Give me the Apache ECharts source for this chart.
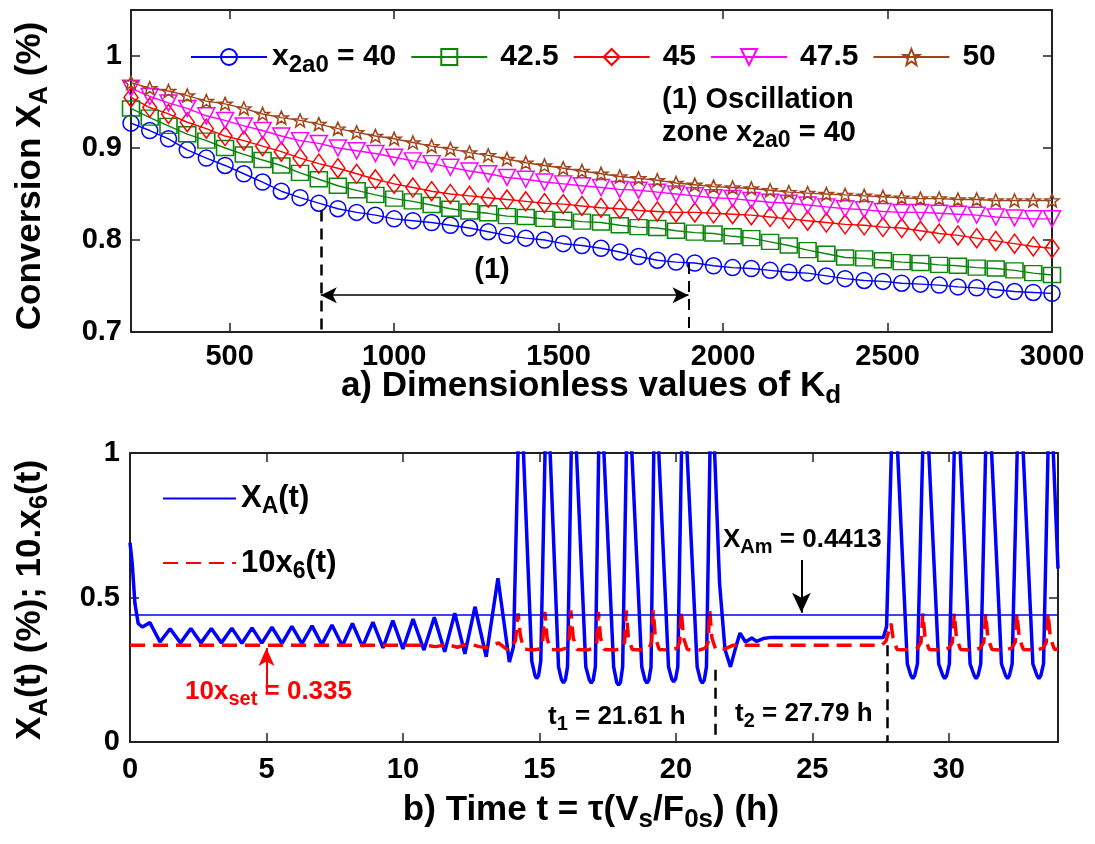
<!DOCTYPE html>
<html><head><meta charset="utf-8">
<script src="https://cdn.jsdelivr.net/npm/echarts@6/dist/echarts.min.js"></script>
<style>html,body{margin:0;padding:0;background:#fff}#c{width:1095px;height:844px}</style>
</head><body><div id="c"></div>
<script>
// ---- Panel a data ----
const kd = [200,257,314,371,429,486,543,600,657,714,771,829,886,943,1000,1057,1114,1171,1229,1286,1343,1400,1457,1514,1571,1629,1686,1743,1800,1857,1914,1971,2029,2086,2143,2200,2257,2314,2371,2429,2486,2543,2600,2657,2714,2771,2829,2886,2943,3000];
const x40 = [0.927,0.919,0.910,0.898,0.889,0.881,0.872,0.863,0.853,0.846,0.840,0.834,0.830,0.827,0.823,0.821,0.819,0.816,0.813,0.809,0.805,0.802,0.800,0.796,0.794,0.791,0.787,0.782,0.778,0.776,0.775,0.772,0.770,0.769,0.767,0.765,0.764,0.761,0.758,0.756,0.755,0.753,0.752,0.751,0.749,0.748,0.746,0.744,0.743,0.742];
const x425 = [0.943,0.933,0.924,0.915,0.908,0.900,0.893,0.887,0.881,0.873,0.866,0.859,0.854,0.849,0.845,0.842,0.838,0.834,0.831,0.829,0.826,0.825,0.823,0.822,0.820,0.819,0.816,0.814,0.813,0.810,0.808,0.807,0.804,0.802,0.798,0.794,0.789,0.785,0.781,0.780,0.778,0.776,0.775,0.773,0.772,0.770,0.769,0.767,0.764,0.762];
const x45 = [0.955,0.944,0.937,0.928,0.921,0.913,0.908,0.902,0.896,0.889,0.883,0.878,0.872,0.866,0.861,0.857,0.853,0.850,0.848,0.846,0.844,0.842,0.840,0.839,0.837,0.835,0.834,0.832,0.831,0.830,0.830,0.829,0.828,0.827,0.825,0.823,0.821,0.819,0.817,0.816,0.814,0.813,0.810,0.807,0.805,0.802,0.799,0.796,0.793,0.791];
const x475 = [0.965,0.956,0.949,0.943,0.935,0.930,0.924,0.919,0.913,0.908,0.905,0.900,0.897,0.894,0.890,0.886,0.883,0.879,0.875,0.872,0.868,0.866,0.863,0.861,0.859,0.857,0.855,0.854,0.852,0.850,0.848,0.846,0.845,0.843,0.841,0.840,0.838,0.836,0.834,0.833,0.831,0.830,0.830,0.829,0.828,0.827,0.825,0.824,0.823,0.823];
const x50 = [0.971,0.965,0.962,0.957,0.951,0.948,0.943,0.937,0.933,0.930,0.926,0.921,0.917,0.913,0.910,0.906,0.902,0.899,0.895,0.892,0.888,0.884,0.881,0.878,0.875,0.872,0.869,0.867,0.865,0.862,0.860,0.858,0.857,0.856,0.854,0.852,0.851,0.850,0.849,0.848,0.847,0.846,0.845,0.845,0.844,0.844,0.843,0.843,0.843,0.843];
const kdTicks = [500,1000,1500,2000,2500,3000];
const convTicks = [0.7,0.8,0.9,1];
const zoneStart = 777, zoneEnd = 1895, zoneArrowY = 0.74;
const zoneStartTop = 0.832, zoneEndTop = 0.775;

// ---- Panel b data ----
const xA = [[0,0.69],[0.08,0.62],[0.18,0.48],[0.3,0.41],[0.45,0.398],[0.73,0.413],[1.1,0.346],[1.47,0.392],[1.85,0.343],[2.23,0.393],[2.6,0.343],[2.98,0.393],[3.35,0.343],[3.73,0.394],[4.1,0.342],[4.47,0.395],[4.83,0.342],[5.2,0.397],[5.57,0.341],[5.93,0.400],[6.3,0.340],[6.67,0.402],[7.03,0.337],[7.4,0.405],[7.78,0.333],[8.15,0.410],[8.52,0.330],[8.9,0.415],[9.27,0.326],[9.63,0.420],[10.0,0.322],[10.37,0.425],[10.77,0.318],[11.15,0.432],[11.53,0.312],[11.9,0.446],[12.27,0.305],[12.64,0.468],[13.05,0.295],[13.48,0.567],[13.9,0.277],[14.05,0.33],
[14.29,1.3],[14.72,0.28],[14.84,0.23],[14.9,0.22],[14.97,0.23],[15.05,0.28],
[15.27,1.3],[15.7,0.26],[15.81,0.215],[15.88,0.205],[15.95,0.215],[16.03,0.26],
[16.22,1.3],[16.7,0.26],[16.83,0.214],[16.9,0.204],[16.97,0.214],[17.05,0.26],
[17.22,1.3],[17.72,0.26],[17.83,0.207],[17.9,0.197],[17.97,0.207],[18.05,0.26],
[18.24,1.3],[18.75,0.26],[18.87,0.214],[18.94,0.204],[19.01,0.214],[19.09,0.26],
[19.23,1.3],[19.73,0.26],[19.85,0.218],[19.92,0.208],[19.99,0.218],[20.07,0.26],
[20.26,1.3],[20.78,0.26],[20.9,0.214],[20.97,0.204],[21.04,0.214],[21.12,0.26],
[21.3,1.3],[21.6,0.55],[21.8,0.32],[22.0,0.26],[22.2,0.33],[22.35,0.377],[22.55,0.346],[22.78,0.36],[22.95,0.348],[23.2,0.358],[23.5,0.362],[27.6,0.362],[27.72,0.4],
[27.98,1.3],[28.48,0.27],[28.61,0.23],[28.68,0.22],[28.75,0.23],[28.85,0.27],
[29.12,1.3],[29.63,0.27],[29.78,0.23],[29.85,0.22],[29.92,0.23],[30.02,0.27],
[30.27,1.3],[30.78,0.27],[30.93,0.23],[31.0,0.22],[31.07,0.23],[31.17,0.27],
[31.42,1.3],[31.93,0.27],[32.08,0.23],[32.15,0.22],[32.22,0.23],[32.32,0.27],
[32.58,1.3],[33.08,0.27],[33.23,0.23],[33.3,0.22],[33.37,0.23],[33.47,0.27],
[33.7,1.3],[34,0.6]];
const x6 = [[0,0.335],[10.8,0.335],[11.2,0.33],[11.6,0.337],[12.0,0.328],[12.4,0.34],[12.8,0.33],[13.1,0.326],[13.5,0.343],[13.85,0.318],
[14.12,0.35],[14.22,0.445],[14.3,0.37],[14.42,0.322],
[14.75,0.318],[15.0,0.322],[15.12,0.345],[15.2,0.45],[15.28,0.36],[15.4,0.32],
[15.75,0.318],[15.98,0.325],[16.08,0.345],[16.15,0.455],[16.24,0.36],[16.38,0.32],
[16.75,0.318],[17.0,0.325],[17.1,0.345],[17.16,0.45],[17.24,0.36],[17.38,0.32],
[17.78,0.318],[18.02,0.325],[18.12,0.345],[18.18,0.455],[18.26,0.36],[18.4,0.32],
[18.8,0.318],[19.02,0.325],[19.11,0.345],[19.17,0.455],[19.25,0.36],[19.39,0.32],
[19.82,0.318],[20.05,0.325],[20.14,0.345],[20.2,0.455],[20.28,0.36],[20.42,0.32],
[20.85,0.318],[21.08,0.325],[21.18,0.345],[21.24,0.455],[21.32,0.36],[21.46,0.32],[21.8,0.322],[22.1,0.335],[27.55,0.335],[27.7,0.35],[27.88,0.41],[27.96,0.36],[28.1,0.32],
[28.6,0.318],[28.85,0.325],[28.98,0.345],[29.05,0.445],[29.13,0.36],[29.28,0.32],
[29.75,0.318],[30.0,0.325],[30.13,0.345],[30.2,0.445],[30.28,0.36],[30.43,0.32],
[30.9,0.318],[31.15,0.325],[31.28,0.345],[31.35,0.445],[31.43,0.36],[31.58,0.32],
[32.05,0.318],[32.3,0.325],[32.43,0.345],[32.5,0.445],[32.58,0.36],[32.73,0.32],
[33.2,0.318],[33.45,0.325],[33.57,0.345],[33.64,0.445],[33.72,0.36],[33.87,0.32],[34,0.322]];
const timeTicks = [0,5,10,15,20,25,30];
const xaTicks = [0,0.5,1];
const xAm = 0.4413;
const t1 = 21.45, t1Top = 0.25, t2 = 27.75, t2Top = 0.335;
const amArrowT = 24.6, amArrowFrom = 0.63, amArrowTo = 0.447;
const setArrowT = 5.0, setArrowFrom = 0.17, setArrowTo = 0.325;

const F = 'Liberation Sans, Arial, sans-serif';
const AX = '#222';

function pairs(xs, ys){ return xs.map((x,i)=>[x, ys[i]]); }

const chart = echarts.init(document.getElementById('c'), null, {renderer:'canvas'});

function axisBase(extra){
  return Object.assign({
    type:'value',
    axisLine:{show:true, onZero:false, lineStyle:{color:AX, width:2}},
    splitLine:{show:false},
  }, extra);
}
const tickLabel = {color:'#000', fontFamily:F, fontWeight:'bold', fontSize:29};
const ticks = vals => ({show:true, inside:true, length:9, customValues:vals, lineStyle:{color:AX,width:1.5}});

const mk = (name, ys, color, symbol, size, rot) => ({
  name, type:'line', xAxisIndex:0, yAxisIndex:0, data: pairs(kd, ys),
  symbol, symbolSize:size, symbolRotate:rot||0, showAllSymbol:true,
  lineStyle:{color, width:1.4},
  itemStyle:{color:'rgba(255,255,255,0)', borderColor:color, borderWidth:1.5},
  emphasis:{disabled:true}, animation:false, z:3
});

const richG = (fs, sfs, color) => ({
  m:{fontSize:fs, fontWeight:'bold', fontFamily:F, fill:color||'#000'},
  s:{fontSize:sfs, fontWeight:'bold', fontFamily:F, fill:color||'#000', padding:[Math.round(fs*0.55),0,0,0]}
});
const richL = (fs, sfs, padL) => ({
  f:{fontSize:fs, fontWeight:'bold', fontFamily:F, color:'#000', padding:[0,0,0,padL]},
  g:{fontSize:fs, fontWeight:'bold', fontFamily:F, color:'#000'},
  m:{fontSize:fs, fontWeight:'bold', fontFamily:F, color:'#000'},
  s:{fontSize:sfs, fontWeight:'bold', fontFamily:F, color:'#000', padding:[Math.round(fs*0.55),0,0,0]}
});

const option = {
  backgroundColor:'#fff',
  animation:false,
  grid:[
    {left:131, top:10, width:921, height:322},
    {left:130, top:453, width:928, height:289}
  ],
  xAxis:[
    axisBase({gridIndex:0, min:200, max:3000, position:'bottom', axisTick:ticks(kdTicks),
      axisLabel:Object.assign({customValues:kdTicks, margin:10, formatter:v=>String(v)}, tickLabel)}),
    axisBase({gridIndex:0, min:200, max:3000, position:'top', axisTick:ticks(kdTicks), axisLabel:{show:false}}),
    axisBase({gridIndex:1, min:0, max:34, position:'bottom', axisTick:ticks(timeTicks),
      axisLabel:Object.assign({customValues:timeTicks, margin:13, formatter:v=>String(v)}, tickLabel)}),
    axisBase({gridIndex:1, min:0, max:34, position:'top', axisTick:ticks(timeTicks), axisLabel:{show:false}})
  ],
  yAxis:[
    axisBase({gridIndex:0, min:0.7, max:1.05, position:'left', axisTick:ticks(convTicks),
      axisLabel:Object.assign({customValues:convTicks, margin:9, formatter:v=>v===1?'1':v.toFixed(1)}, tickLabel)}),
    axisBase({gridIndex:0, min:0.7, max:1.05, position:'right', axisTick:ticks(convTicks), axisLabel:{show:false}}),
    axisBase({gridIndex:1, min:0, max:1, position:'left', axisTick:ticks(xaTicks),
      axisLabel:Object.assign({customValues:xaTicks, margin:10, formatter:v=>String(v)}, tickLabel)}),
    axisBase({gridIndex:1, min:0, max:1, position:'right', axisTick:ticks(xaTicks), axisLabel:{show:false}})
  ],
  legend:[
    {data:['40','42.5','45','47.5','50'], left:185, top:37, itemWidth:76, itemHeight:20, itemGap:14,
     textStyle:{fontSize:30, fontWeight:'bold', fontFamily:F, color:'#000', rich:richL(30,24,8)},
     formatter:n=> n==='40' ? '{g|x}{s|2a0}{m| = 40}' : '{f|'+n+'}', selectedMode:false},
    {data:['xa','x6'], orient:'vertical', left:157, top:478, itemWidth:73, itemHeight:2, itemGap:29,
     textStyle:{fontSize:31, fontWeight:'bold', fontFamily:F, color:'#000', rich:richL(31,23,0)},
     formatter:n=> n==='xa' ? '{f|X}{s|A}{m|(t)}' : '{f|10x}{s|6}{m|(t)}', selectedMode:false}
  ],
  series:[
    Object.assign(mk('40', x40, '#0000ff', 'circle', 16), {
      markLine:{silent:true, symbol:'none', animation:false, label:{show:false},
        data:[
          [{coord:[zoneStart, zoneStartTop], lineStyle:{color:'#000', width:2.5, type:[11,7]}}, {coord:[zoneStart, 0.7]}],
          [{coord:[zoneEnd, zoneEndTop], lineStyle:{color:'#000', width:2, type:[11,7]}}, {coord:[zoneEnd, 0.7]}],
          [{coord:[zoneStart, zoneArrowY], symbol:'arrow', symbolSize:[12,16], lineStyle:{color:'#000', width:1.5, type:'solid'}}, {coord:[zoneEnd, zoneArrowY], symbol:'arrow', symbolSize:[12,16]}]
        ]}
    }),
    mk('42.5', x425, '#0a860a', 'rect', [17,15]),
    mk('45', x45, '#ff0000', 'diamond', [14,19]),
    mk('47.5', x475, '#ff00ff', 'triangle', [17,16], 180),
    mk('50', x50, '#a0441a', 'path://M0,-10 L2.9,-3.1 L9.5,-3.1 L4.1,1.2 L5.9,8.1 L0,4 L-5.9,8.1 L-4.1,1.2 L-9.5,-3.1 L-2.9,-3.1 Z', [14,13]),
    {name:'xa', type:'line', xAxisIndex:2, yAxisIndex:2, data:xA, symbol:'none', showSymbol:false,
     lineStyle:{color:'#0000ff', width:3.5}, itemStyle:{color:'#0000ff'}, z:3, emphasis:{disabled:true},
     markLine:{silent:true, symbol:'none', animation:false, label:{show:false},
       data:[
         [{coord:[0, xAm], lineStyle:{color:'#0000ff', width:1.5, type:'solid'}}, {coord:[34, xAm]}],
         [{coord:[t1, t1Top], lineStyle:{color:'#000', width:2.5, type:[11,7]}}, {coord:[t1, 0]}],
         [{coord:[t2, t2Top], lineStyle:{color:'#000', width:2.5, type:[11,7]}}, {coord:[t2, 0]}],
         [{coord:[amArrowT, amArrowFrom], lineStyle:{color:'#000', width:2, type:'solid'}}, {coord:[amArrowT, amArrowTo], symbol:'arrow', symbolSize:[14,20]}],
         [{coord:[setArrowT, setArrowFrom], lineStyle:{color:'#ff0000', width:2, type:'solid'}}, {coord:[setArrowT, setArrowTo], symbol:'arrow', symbolSize:[12,18]}]
       ]}},
    {name:'x6', type:'line', xAxisIndex:2, yAxisIndex:2, data:x6, symbol:'none', showSymbol:false,
     lineStyle:{color:'#ff0000', width:3.5, type:[15,8]}, itemStyle:{color:'#ff0000'}, z:4, emphasis:{disabled:true}}
  ],
  graphic:[
    {type:'text', x:30, y:176, rotation:Math.PI/2, style:{text:'{m|Conversion X}{s|A}{m| (%)}', align:'center', verticalAlign:'middle', rich:richG(35,26)}},
    {type:'text', x:591, y:386, style:{text:'{m|a) Dimensionless values of K}{s|d}', align:'center', verticalAlign:'middle', rich:richG(35,26)}},
    {type:'text', x:30, y:600, rotation:Math.PI/2, style:{text:'{m|X}{s|A}{m|(t) (%); 10.x}{s|6}{m|(t)}', align:'center', verticalAlign:'middle', rich:richG(35,26)}},
    {type:'text', x:591, y:810, style:{text:'{m|b) Time t = \u03c4(V}{s|s}{m|/F}{s|0s}{m|) (h)}', align:'center', verticalAlign:'middle', rich:richG(35,26)}},
    {type:'text', x:662, y:100, style:{text:'(1) Oscillation', fontSize:29, fontWeight:'bold', fontFamily:F, fill:'#000', verticalAlign:'middle'}},
    {type:'text', x:662, y:133, style:{text:'{m|zone x}{s|2a0}{m| = 40}', verticalAlign:'middle', rich:richG(29,23)}},
    {type:'text', x:492, y:270, style:{text:'(1)', fontSize:29, fontWeight:'bold', fontFamily:F, fill:'#000', align:'center', verticalAlign:'middle'}},
    {type:'text', x:723, y:540, style:{text:'{m|X}{s|Am}{m| = 0.4413}', verticalAlign:'middle', rich:richG(26,20)}},
    {type:'text', x:548, y:717, style:{text:'{m|t}{s|1}{m| = 21.61 h}', verticalAlign:'middle', rich:richG(26,20)}},
    {type:'text', x:735, y:714, style:{text:'{m|t}{s|2}{m| = 27.79 h}', verticalAlign:'middle', rich:richG(26,20)}},
    {type:'text', x:185, y:692, style:{text:'{m|10x}{s|set}{m| = 0.335}', verticalAlign:'middle', rich:richG(26,20,'#ff0000')}}
  ]
};
chart.setOption(option);
</script>
</body></html>
